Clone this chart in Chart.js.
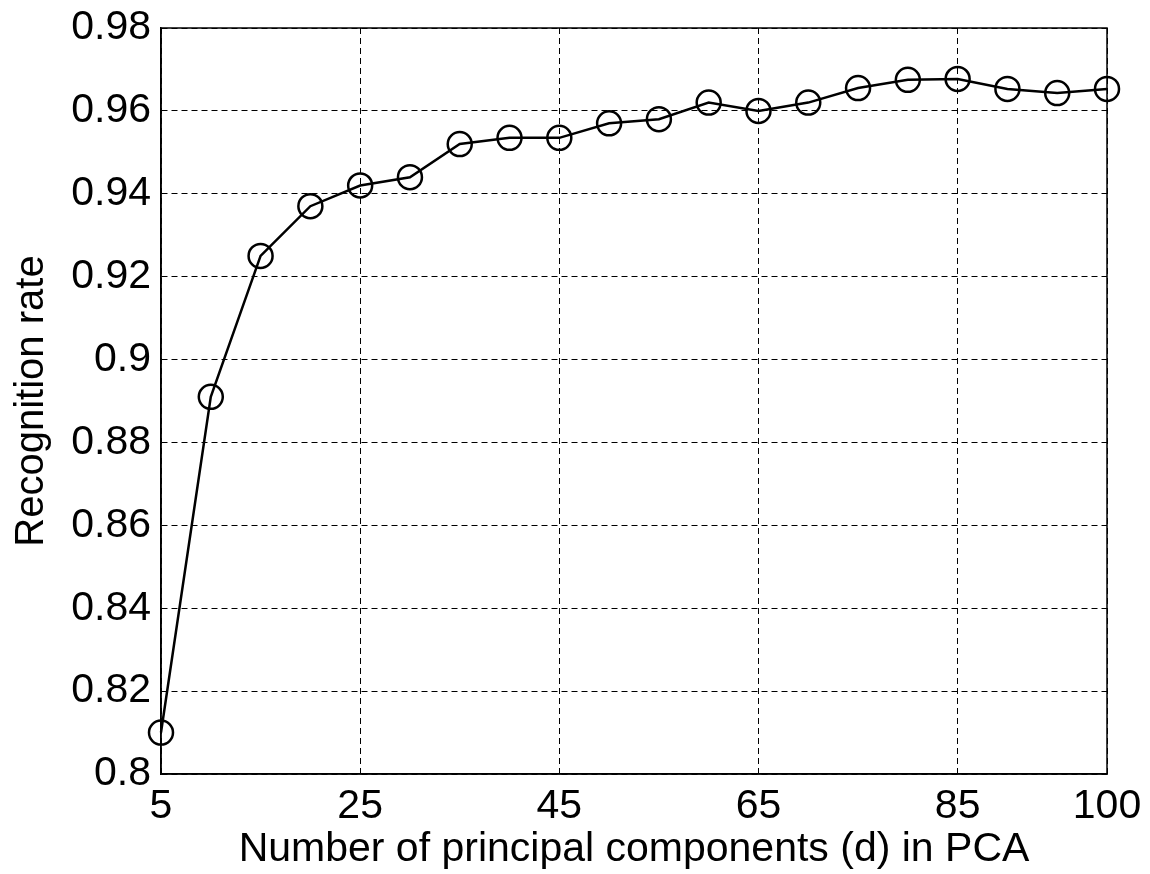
<!DOCTYPE html>
<html><head><meta charset="utf-8">
<script src="https://cdn.jsdelivr.net/npm/chart.js@4/dist/chart.umd.min.js"></script>
<style>html,body{margin:0;padding:0;background:#fff}#wrap{width:1150px;height:874px}</style>
</head><body><div id="wrap"><canvas id="c" width="1150" height="874"></canvas></div>
<script>
const components = [5,10,15,20,25,30,35,40,45,50,55,60,65,70,75,80,85,90,95,100];
const recognitionRate = [0.810,0.891,0.925,0.937,0.942,0.944,0.952,0.9535,0.9535,0.957,0.958,0.962,0.960,0.962,0.9655,0.9675,0.9677,0.9653,0.9643,0.9653];
const xTicks = [5,25,45,65,85,100];
const yTicks = [0.8,0.82,0.84,0.86,0.88,0.9,0.92,0.94,0.96,0.98];

const FONT = "'Liberation Sans', Arial, sans-serif";
const boxPlugin = {
  id:'box',
  afterDraw(chart){
    const {ctx, chartArea:a} = chart;
    ctx.save(); ctx.strokeStyle='#000'; ctx.lineWidth=1.5; ctx.setLineDash([]);
    ctx.strokeRect(a.left, a.top, a.right-a.left, a.bottom-a.top);
    ctx.restore();
  }
};
new Chart(document.getElementById('c'), {
  type:'line',
  data:{ datasets:[{
    data: components.map((x,i)=>({x, y:recognitionRate[i]})),
    borderColor:'#000', borderWidth:2.5, backgroundColor:'transparent',
    pointStyle:'circle', pointRadius:12, pointBorderWidth:2.5, pointBorderColor:'#000',
    pointBackgroundColor:'transparent', tension:0, clip:false
  }]},
  options:{
    responsive:false, animation:false, devicePixelRatio:1,
    layout:{padding:{top:28,right:43,left:0,bottom:0}},
    plugins:{legend:{display:false}, tooltip:{enabled:false}},
    scales:{
      x:{ type:'linear', min:5, max:100,
        afterBuildTicks(s){ s.ticks = xTicks.map(v=>({value:v})); },
        afterFit(s){ s.height = 100; s.paddingLeft = 0; s.paddingRight = 0; },
        grid:{color:'#000', lineWidth:1, drawTicks:false},
        border:{display:true, color:'#000', width:1.5, dash:[6,4]},
        ticks:{color:'#000', font:{family:FONT, size:41}, padding:8, maxRotation:0, autoSkip:false, callback:v=>String(v)},
        title:{display:true, text:'Number of principal components (d) in PCA', color:'#000', font:{family:FONT, size:41}, padding:{top:0,bottom:0}}
      },
      y:{ type:'linear', min:0.8, max:0.98,
        afterBuildTicks(s){ s.ticks = yTicks.map(v=>({value:v})); },
        afterFit(s){ s.width = 161; s.paddingTop = 0; s.paddingBottom = 0; },
        grid:{color:'#000', lineWidth:1, drawTicks:false},
        border:{display:true, color:'#000', width:1.5, dash:[6,4]},
        ticks:{color:'#000', font:{family:FONT, size:41}, padding:10, autoSkip:false, callback:v=>String(+(+v).toFixed(2))},
        title:{display:true, text:'Recognition rate', color:'#000', font:{family:FONT, size:40}, padding:{top:8,bottom:0}}
      }
    }
  },
  plugins:[boxPlugin]
});
</script></body></html>
